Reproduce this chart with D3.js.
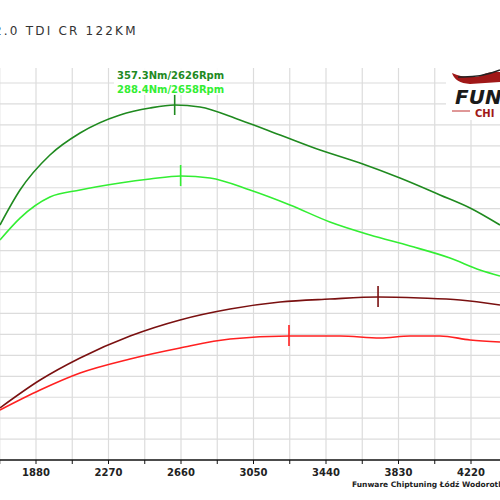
<!DOCTYPE html>
<html><head><meta charset="utf-8">
<script src="https://cdn.jsdelivr.net/npm/d3@7"></script>
<style>body{margin:0;background:#fff}</style></head>
<body><div id="c"></div>
<script>
const title = "2.0 TDI CR 122KM";
const xTicks = [1880,2270,2660,3050,3440,3830,4220];
const rpmDG = [1686,1794,1955,2117,2332,2493,2626,2762,2977,3193,3408,3623,3838,4053,4215,4376];
const valDG = [240.8,274.8,308.8,330.1,347.6,354.4,357.3,355.4,342.7,328.2,313.6,301.0,286.4,270.0,257.3,240.8];
const rpmLG = [1686,1794,1955,2117,2332,2493,2660,2816,3031,3246,3461,3677,3892,4107,4268,4376];
const valLG = [226.3,247.6,268.0,274.8,281.6,285.5,288.4,286.4,274.8,260.3,243.8,231.2,220.5,208.8,197.2,191.4];
const rpmDR = [1686,1902,2117,2386,2655,2924,3193,3461,3720,3946,4161,4376];
const valDR = [63.3,90.4,111.8,133.1,148.7,159.3,166.1,169.0,171.0,170.0,168.1,163.2];
const rpmR = [1686,1902,2117,2386,2655,2924,3241,3515,3731,3892,4053,4215,4376];
const valR = [61.3,80.7,97.2,110.8,121.5,130.2,133.1,133.1,131.2,133.1,133.1,129.3,127.3];
const peaks = [{r:2626,v:357.3,c:"#1f8a1f"},{r:2658,v:288.4,c:"#33ee33"},{r:3720,v:171.0,c:"#7a1010"},{r:3241,v:133.1,c:"#ff2020"}];
const labels = ["357.3Nm/2626Rpm","288.4Nm/2658Rpm"];

const svg = d3.select("#c").append("svg").attr("width",500).attr("height",500);
const x = d3.scaleLinear().domain([1880,4220]).range([36,471]);
const y = d3.scaleLinear().domain([357.3,0]).range([105,105+357.3*1.0305]);

const g = svg.append("g").attr("stroke","#dcdcdc").attr("stroke-width",1.2);
for(let r=1880-195*2;r<=4400;r+=195){ const xx=x(r); g.append("line").attr("x1",xx).attr("x2",xx).attr("y1",68).attr("y2",460);}
for(let yy=83;yy<460;yy+=20.95){ g.append("line").attr("x1",0).attr("x2",500).attr("y1",yy).attr("y2",yy);}
svg.append("rect").attr("x",446).attr("y",66).attr("width",60).attr("height",54).attr("fill","#fff");
svg.append("line").attr("x1",0).attr("x2",500).attr("y1",460).attr("y2",460).attr("stroke","#111").attr("stroke-width",1.3);
for(let r=1880-195*2;r<=4400;r+=195) svg.append("line").attr("x1",x(r)).attr("x2",x(r)).attr("y1",460).attr("y2",464).attr("stroke","#111");
svg.selectAll(".xt").data(xTicks).join("text").attr("x",d=>x(d)).attr("y",476).attr("text-anchor","middle")
 .attr("font-family","DejaVu Sans").attr("font-weight","bold").attr("font-size",10).attr("fill","#222").text(d=>d);

const line = d3.line().x(d=>x(d[0])).y(d=>y(d[1])).curve(d3.curveMonotoneX);
[[rpmDG,valDG,"#1f8a1f"],[rpmLG,valLG,"#33ee33"],[rpmDR,valDR,"#7a1010"],[rpmR,valR,"#ff2020"]].forEach(([r,v,c])=>{
 svg.append("path").attr("d",line(d3.zip(r,v))).attr("fill","none").attr("stroke",c).attr("stroke-width",1.6);
});
peaks.forEach(p=>svg.append("line").attr("x1",x(p.r)).attr("x2",x(p.r)).attr("y1",y(p.v)-11).attr("y2",y(p.v)+10).attr("stroke",p.c).attr("stroke-width",1.6));

svg.append("rect").attr("x",114).attr("y",67).attr("width",106).attr("height",28).attr("fill","#fff").attr("opacity",0.9);
svg.append("text").attr("x",117).attr("y",79).attr("font-family","DejaVu Sans").attr("font-weight","bold").attr("font-size",10).attr("fill","#1f8a1f").text(labels[0]);
svg.append("text").attr("x",117).attr("y",93).attr("font-family","DejaVu Sans").attr("font-weight","bold").attr("font-size",10).attr("fill","#33ee33").text(labels[1]);

svg.append("text").attr("x",-6).attr("y",35).attr("font-family","DejaVu Sans").attr("font-size",12).attr("letter-spacing",2.2).attr("fill","#333").text(title);
svg.append("text").attr("x",352).attr("y",487).attr("font-family","DejaVu Sans").attr("font-weight","bold").attr("font-size",7.5).attr("fill","#222").text("Funware Chiptuning Łódź Wodorotlenek");

svg.append("path").attr("d","M452,73 Q455,83 470,84 L500,82 L500,72 Q490,71 480,76 Q465,79 452,73Z").attr("fill","#a01818");
svg.append("path").attr("d","M458,77 Q480,78 500,70").attr("fill","none").attr("stroke","#222").attr("stroke-width",1.5);
svg.append("text").attr("x",455).attr("y",104).attr("font-family","DejaVu Sans").attr("font-weight","bold").attr("font-style","italic").attr("font-size",20).attr("fill","#1a1a1a").text("FUN");
svg.append("line").attr("x1",452).attr("x2",470).attr("y1",111).attr("y2",111).attr("stroke","#c03030").attr("stroke-width",1);
svg.append("text").attr("x",475).attr("y",117).attr("font-family","DejaVu Sans").attr("font-weight","bold").attr("font-size",10).attr("fill","#a01818").text("CHI");
</script></body></html>
